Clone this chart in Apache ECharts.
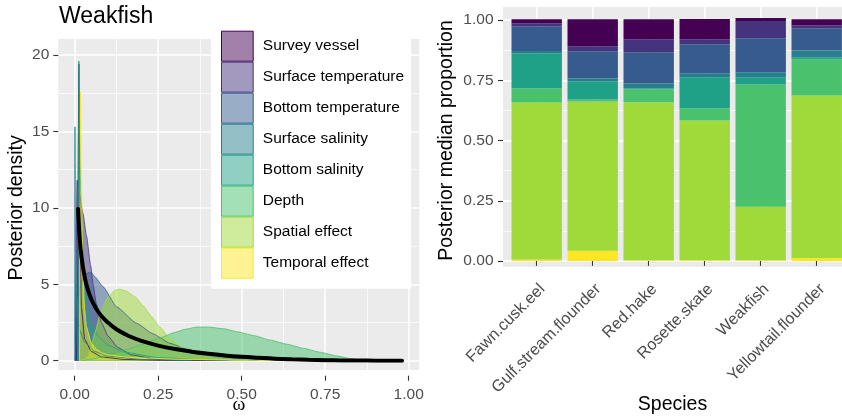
<!DOCTYPE html>
<html><head><meta charset="utf-8">
<script src="https://cdn.jsdelivr.net/npm/echarts@6/dist/echarts.min.js"></script>
<style>html,body{margin:0;padding:0;background:#fff}#c{width:842px;height:420px}</style>
</head><body><div id="c"></div>
<script>
// ---------- data ----------
const componentNames = ['Survey vessel','Surface temperature','Bottom temperature','Surface salinity','Bottom salinity','Depth','Spatial effect','Temporal effect'];
const componentColors = ['#440154','#46337E','#365C8D','#277F8E','#1FA187','#4AC16D','#9FDA3A','#FDE725'];

// left panel: posterior densities of omega (Weakfish), [omega, density]
const densSurveyVessel = [[0.006,0],[0.009,6],[0.011,15],[0.0125,19.4],[0.014,15],[0.016,8],[0.02,3.5],[0.03,1.4],[0.05,0.6],[0.08,0.25],[0.15,0.08],[0.3,0.01],[0.5,0]];
const densSurfaceTemp = [[0.002,0],[0.004,6],[0.007,11.8],[0.015,10.8],[0.025,9.6],[0.035,8.2],[0.048,6.2],[0.055,5.0],[0.065,3.7],[0.08,2.5],[0.1,1.6],[0.13,0.85],[0.17,0.38],[0.25,0.08],[0.35,0]];
const densBottomTemp = [[0.002,0],[0.005,2.5],[0.01,4.2],[0.02,5.2],[0.035,5.7],[0.048,5.8],[0.06,5.5],[0.085,4.84],[0.125,3.53],[0.185,2.45],[0.235,1.75],[0.285,1.14],[0.335,0.75],[0.385,0.48],[0.45,0.25],[0.5,0.15],[0.6,0.05],[0.7,0.01],[0.8,0]];
const densSurfaceSal = [[0,0],[0.0008,15.3],[0.002,9],[0.004,5],[0.008,3],[0.015,2],[0.03,1.2],[0.06,0.6],[0.1,0.3],[0.2,0.08],[0.35,0]];
const densBottomSal = [[0.009,0],[0.011,10],[0.0125,19.6],[0.015,15],[0.018,11],[0.02,10],[0.025,7.2],[0.03,5.2],[0.04,3.3],[0.055,2.2],[0.07,1.6],[0.1,1.0],[0.15,0.55],[0.25,0.2],[0.4,0.05],[0.55,0]];
const densDepth = [[0.02,0],[0.05,0.1],[0.1,0.35],[0.15,0.7],[0.2,1.05],[0.25,1.45],[0.3,1.85],[0.33,2.05],[0.365,2.2],[0.4,2.2],[0.45,2.08],[0.485,1.9],[0.535,1.65],[0.585,1.35],[0.635,1.08],[0.685,0.81],[0.735,0.55],[0.785,0.31],[0.83,0.12],[0.86,0.03],[0.9,0]];
const densSpatial = [[0.015,0],[0.03,0.1],[0.04,0.3],[0.05,0.92],[0.06,1.8],[0.08,3.3],[0.1,4.19],[0.12,4.6],[0.135,4.68],[0.155,4.55],[0.18,4.19],[0.205,3.6],[0.23,2.88],[0.255,2.2],[0.28,1.57],[0.305,1.1],[0.33,0.7],[0.36,0.45],[0.39,0.28],[0.43,0.12],[0.47,0.03],[0.52,0]];
const densTemporal = [[0.0145,0],[0.016,12],[0.0175,17.6],[0.02,12],[0.023,8],[0.025,5.5],[0.03,3.3],[0.035,2.22],[0.05,1.14],[0.065,0.75],[0.08,0.52],[0.1,0.37],[0.15,0.25],[0.2,0.18],[0.3,0.1],[0.5,0.04],[0.75,0.01],[0.98,0]];
const densPrior = [[0.01,9.93],[0.015,8.01],[0.02,6.85],[0.03,5.45],[0.04,4.6],[0.05,4.01],[0.065,3.38],[0.08,2.92],[0.1,2.48],[0.125,2.06],[0.15,1.75],[0.175,1.5],[0.2,1.3],[0.25,0.99],[0.3,0.76],[0.35,0.59],[0.4,0.45],[0.45,0.34],[0.5,0.255],[0.55,0.19],[0.6,0.13],[0.65,0.09],[0.7,0.06],[0.75,0.037],[0.8,0.02],[0.85,0.01],[0.9,0.003],[0.98,0]];
const densities = [densSurveyVessel,densSurfaceTemp,densBottomTemp,densSurfaceSal,densBottomSal,densDepth,densSpatial,densTemporal];

// right panel: posterior median proportions by species
const speciesNames = ['Fawn.cusk.eel','Gulf.stream.flounder','Red.hake','Rosette.skate','Weakfish','Yellowtail.flounder'];
const propSurveyVessel = [0.017,0.112,0.083,0.083,0.012,0.025];
const propSurfaceTemp  = [0.012,0.021,0.054,0.021,0.071,0.012];
const propBottomTemp   = [0.1025,0.112,0.129,0.120,0.141,0.092];
const propSurfaceSal   = [0.0095,0.012,0.020,0.017,0.021,0.029];
const propBottomSal    = [0.145,0.075,0.004,0.128,0.029,0.008];
const propDepth        = [0.058,0.008,0.054,0.050,0.506,0.149];
const propSpatial      = [0.650,0.618,0.6526,0.578,0.221,0.672];
const propTemporal     = [0.0055,0.0415,0.003,0.003,0.003,0.0125];
const proportions = [propSurveyVessel,propSurfaceTemp,propBottomTemp,propSurfaceSal,propBottomSal,propDepth,propSpatial,propTemporal];

const densityTicks = [0,5,10,15,20];
const omegaTicks = [0,0.25,0.5,0.75,1];
const propTicks = [0,0.25,0.5,0.75,1];

// ---------- styling ----------
function rgba(hex,a){const n=parseInt(hex.slice(1),16);return 'rgba('+(n>>16&255)+','+(n>>8&255)+','+(n&255)+','+a+')';}
const FONT = '"Liberation Sans", Arial, Helvetica, sans-serif';
const PANEL = '#EBEBEB';
const tickLab = {fontSize:15.5,color:'#4D4D4D',fontFamily:FONT};
const tick = {show:true,length:5,lineStyle:{color:'#333333',width:1.1}};
const major = {show:true,lineStyle:{color:'#FFFFFF',width:1.5}};
const minor = {show:true,lineStyle:{color:'#FFFFFF',width:0.75}};
const hidden = {show:false};
const blankAxis = (extra)=>Object.assign({type:'value',min:0,max:1,axisLine:hidden,axisTick:hidden,axisLabel:hidden,splitLine:hidden},extra||{});

const chart = echarts.init(document.getElementById('c'),null,{renderer:'canvas'});

const series = [];
densities.forEach((d,i)=>{
  series.push({type:'line',name:componentNames[i],xAxisIndex:3,yAxisIndex:3,data:d,symbol:'none',smooth:0.15,
    smoothMonotone:'x',lineStyle:{color:componentColors[i],width:0.8},itemStyle:{color:componentColors[i]},
    areaStyle:{color:componentColors[i],opacity:0.5},silent:true,z:2});
});
series.push({type:'line',name:'prior',xAxisIndex:3,yAxisIndex:3,data:densPrior,symbol:'none',smooth:0.4,
  lineStyle:{color:'#000',width:4,cap:'round'},itemStyle:{color:'#000'},silent:true,z:3});
// stacking from the bottom: Temporal effect first
for(let i=componentNames.length-1;i>=0;i--){
  series.push({type:'bar',name:componentNames[i],xAxisIndex:6,yAxisIndex:6,stack:'total',data:proportions[i],
    barWidth:50.4,clip:false,itemStyle:{color:componentColors[i]},silent:true,z:2});
}

chart.setOption({
  animation:false,
  textStyle:{fontFamily:FONT},
  title:{text:'Weakfish',left:59,top:5,padding:0,textStyle:{fontSize:23,fontWeight:'normal',color:'#000',fontFamily:FONT}},
  legend:{orient:'vertical',left:211,top:20.7,padding:[10,7,10,10],backgroundColor:'#FFFFFF',itemWidth:31.7,itemHeight:30,itemGap:0,
    selectedMode:false,textStyle:{fontSize:15.5,color:'#000',fontFamily:FONT,padding:[0,0,0,4.6]},
    data:componentNames.map((n,i)=>({name:n,icon:'rect',itemStyle:{color:rgba(componentColors[i],0.5),borderColor:componentColors[i],borderWidth:1}}))},
  grid:[
    {left:58.3,top:39,width:361,height:336.7,show:true,backgroundColor:PANEL,borderWidth:0},
    {left:58.3,top:55,width:361,height:305.7},
    {left:74.7,top:39,width:334,height:336.7},
    {left:74.7,top:55,width:334,height:305.7},
    {left:503,top:7,width:347,height:266,show:true,backgroundColor:PANEL,borderWidth:0},
    {left:503,top:20,width:347,height:241},
    {left:536.7,top:7,width:280,height:266}
  ],
  xAxis:[
    blankAxis({gridIndex:0,name:'ω',nameLocation:'middle',nameGap:25,nameTextStyle:{fontSize:19.5,color:'#000',fontFamily:'"Liberation Serif","DejaVu Serif",serif'}}),
    blankAxis({gridIndex:1,show:false}),
    {gridIndex:2,type:'value',min:omegaTicks[0],max:omegaTicks[omegaTicks.length-1],interval:omegaTicks[1]-omegaTicks[0],
      axisLine:hidden,axisTick:tick,axisLabel:Object.assign({margin:11,formatter:v=>v.toFixed(2)},tickLab),
      splitLine:major,minorTick:{show:false,splitNumber:2},minorSplitLine:minor},
    blankAxis({gridIndex:3,show:false}),
    blankAxis({gridIndex:4,name:'Species',nameLocation:'middle',nameGap:128,nameTextStyle:{fontSize:19.5,color:'#000',fontFamily:FONT}}),
    blankAxis({gridIndex:5,show:false}),
    {gridIndex:6,type:'category',data:speciesNames,boundaryGap:false,axisLine:hidden,axisTick:Object.assign({interval:0},tick),
      axisLabel:Object.assign({},tickLab,{fontSize:16.2,interval:0,rotate:45,align:'right',verticalAlign:'top',margin:8}),
      splitLine:Object.assign({interval:0},major)}
  ],
  yAxis:[
    blankAxis({gridIndex:0,show:false}),
    {gridIndex:1,type:'value',min:densityTicks[0],max:densityTicks[densityTicks.length-1],interval:densityTicks[1]-densityTicks[0],
      name:'Posterior density',nameLocation:'middle',nameGap:32,nameTextStyle:{fontSize:19.5,color:'#000',fontFamily:FONT},
      axisLine:hidden,axisTick:tick,axisLabel:Object.assign({margin:9},tickLab),
      splitLine:major,minorTick:{show:false,splitNumber:2},minorSplitLine:minor},
    blankAxis({gridIndex:2,show:false}),
    {gridIndex:3,type:'value',min:0,max:20,show:false},
    blankAxis({gridIndex:4,show:false}),
    {gridIndex:5,type:'value',min:propTicks[0],max:propTicks[propTicks.length-1],interval:propTicks[1]-propTicks[0],
      name:'Posterior median proportion',nameLocation:'middle',nameGap:46,nameTextStyle:{fontSize:19.5,color:'#000',fontFamily:FONT},
      axisLine:hidden,axisTick:tick,axisLabel:Object.assign({margin:9.5,formatter:v=>v.toFixed(2)},tickLab),
      splitLine:major,minorTick:{show:false,splitNumber:2},minorSplitLine:minor},
    {gridIndex:6,type:'value',min:-0.05,max:1.05,show:false}
  ],
  series:series
});
</script></body></html>
